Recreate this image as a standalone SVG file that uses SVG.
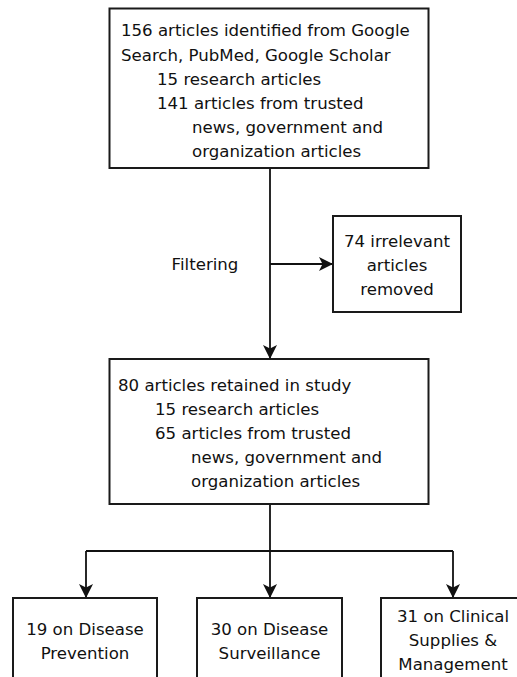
<svg xmlns="http://www.w3.org/2000/svg" width="517" height="677" viewBox="0 0 517 677">
<defs>
<marker id="arr" viewBox="0 0 14 14" refX="13" refY="7" markerWidth="14" markerHeight="14" markerUnits="userSpaceOnUse" orient="auto">
<path d="M0,0 L14,7 L0,14 L3.5,7 Z" fill="#111"/>
</marker>
</defs>
<style>
.box{fill:#fff;stroke:#1a1a1a;stroke-width:2}
.t{font-family:"DejaVu Sans",Verdana,sans-serif;font-size:16.6px;fill:#111}
.c{text-anchor:middle}
.ln{fill:none;stroke:#111;stroke-width:1.8}
</style>
<rect width="517" height="677" fill="#fff"/>
<g id="connectors">
<path class="ln" d="M270,168 V358" marker-end="url(#arr)"/>
<path class="ln" d="M270,264 H332" marker-end="url(#arr)"/>
<path class="ln" d="M270,504 V551"/>
<path class="ln" d="M86,551 H453"/>
<path class="ln" d="M86,551 V597" marker-end="url(#arr)"/>
<path class="ln" d="M270,551 V597" marker-end="url(#arr)"/>
<path class="ln" d="M453,551 V597" marker-end="url(#arr)"/>
</g>
<g id="identified">
<rect class="box" x="109.5" y="8.5" width="319" height="159.5"/>
<text class="t" x="121" y="36">156 articles identified from Google</text>
<text class="t" x="121" y="61">Search, PubMed, Google Scholar</text>
<text class="t" x="157" y="85">15 research articles</text>
<text class="t" x="157" y="109">141 articles from trusted</text>
<text class="t" x="192" y="133">news, government and</text>
<text class="t" x="192" y="157">organization articles</text>
</g>
<g id="filtering-label">
<text class="t c" x="205" y="270">Filtering</text>
</g>
<g id="removed">
<rect class="box" x="333" y="216" width="128" height="96"/>
<text class="t c" x="397" y="247">74 irrelevant</text>
<text class="t c" x="397" y="271">articles</text>
<text class="t c" x="397" y="295">removed</text>
</g>
<g id="retained">
<rect class="box" x="109.5" y="359" width="319" height="145"/>
<text class="t" x="118" y="391">80 articles retained in study</text>
<text class="t" x="155" y="415">15 research articles</text>
<text class="t" x="155" y="439">65 articles from trusted</text>
<text class="t" x="191" y="463">news, government and</text>
<text class="t" x="191" y="487">organization articles</text>
</g>
<g id="prevention">
<rect class="box" x="13" y="598" width="144" height="100"/>
<text class="t c" x="85" y="635">19 on Disease</text>
<text class="t c" x="85" y="659">Prevention</text>
</g>
<g id="surveillance">
<rect class="box" x="197" y="598" width="145" height="100"/>
<text class="t c" x="269.5" y="635">30 on Disease</text>
<text class="t c" x="269.5" y="659">Surveillance</text>
</g>
<g id="clinical">
<rect class="box" x="381" y="598" width="144" height="100"/>
<text class="t c" x="453" y="622">31 on Clinical</text>
<text class="t c" x="453" y="646">Supplies &amp;</text>
<text class="t c" x="453" y="670">Management</text>
</g>
</svg>
